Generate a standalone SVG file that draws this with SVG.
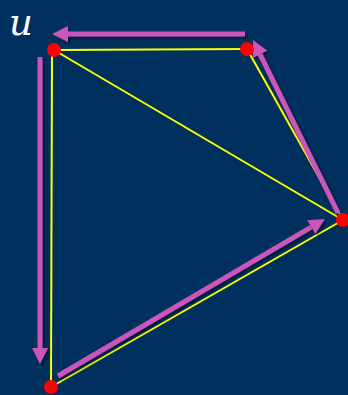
<svg xmlns="http://www.w3.org/2000/svg" width="348" height="395" viewBox="0 0 348 395">
<style>
.edge{stroke:#ffff00;stroke-width:2;fill:none}
.arrow{stroke:#cc55bb;stroke-width:5;fill:none;marker-end:url(#head)}
.node{fill:#ff0000}
.lbl{font-family:"DejaVu Serif",serif;font-style:italic;font-size:37px;fill:#ffffff}
</style>
<defs>
<marker id="head" markerUnits="userSpaceOnUse" markerWidth="17" markerHeight="18" refX="0" refY="8.5" orient="auto">
<path d="M0,0.5 L16,8.5 L0,16.5 z" fill="#cc55bb"/>
</marker>
<filter id="sh" filterUnits="userSpaceOnUse" x="0" y="0" width="348" height="395">
<feDropShadow dx="2" dy="2" stdDeviation="1.5" flood-color="#000000" flood-opacity="0.45"/>
</filter>
</defs>
<rect width="348" height="395" fill="#00305e"/>
<g id="connectors">
<line class="edge" x1="54" y1="50" x2="247" y2="49"/>
<line class="edge" x1="247" y1="49" x2="343" y2="220"/>
<line class="edge" x1="54" y1="50" x2="343" y2="220"/>
<line class="edge" x1="52" y1="50" x2="51" y2="387"/>
<line class="edge" x1="51" y1="387" x2="343" y2="220"/>
<g filter="url(#sh)">
<line class="arrow" x1="245" y1="34" x2="68" y2="34"/>
<line class="arrow" x1="338" y1="213" x2="260.1" y2="54.4"/>
<line class="arrow" x1="40" y1="57" x2="40" y2="348"/>
<line class="arrow" x1="58" y1="376" x2="311.2" y2="227.1"/>
</g>
</g>
<g id="node-u"><circle class="node" cx="54" cy="50" r="7"/><text class="lbl" x="9" y="35">u</text></g>
<g id="node-b"><circle class="node" cx="247" cy="49" r="7"/></g>
<g id="node-c"><circle class="node" cx="343" cy="220" r="7"/></g>
<g id="node-d"><circle class="node" cx="51" cy="387" r="7"/></g>
</svg>
